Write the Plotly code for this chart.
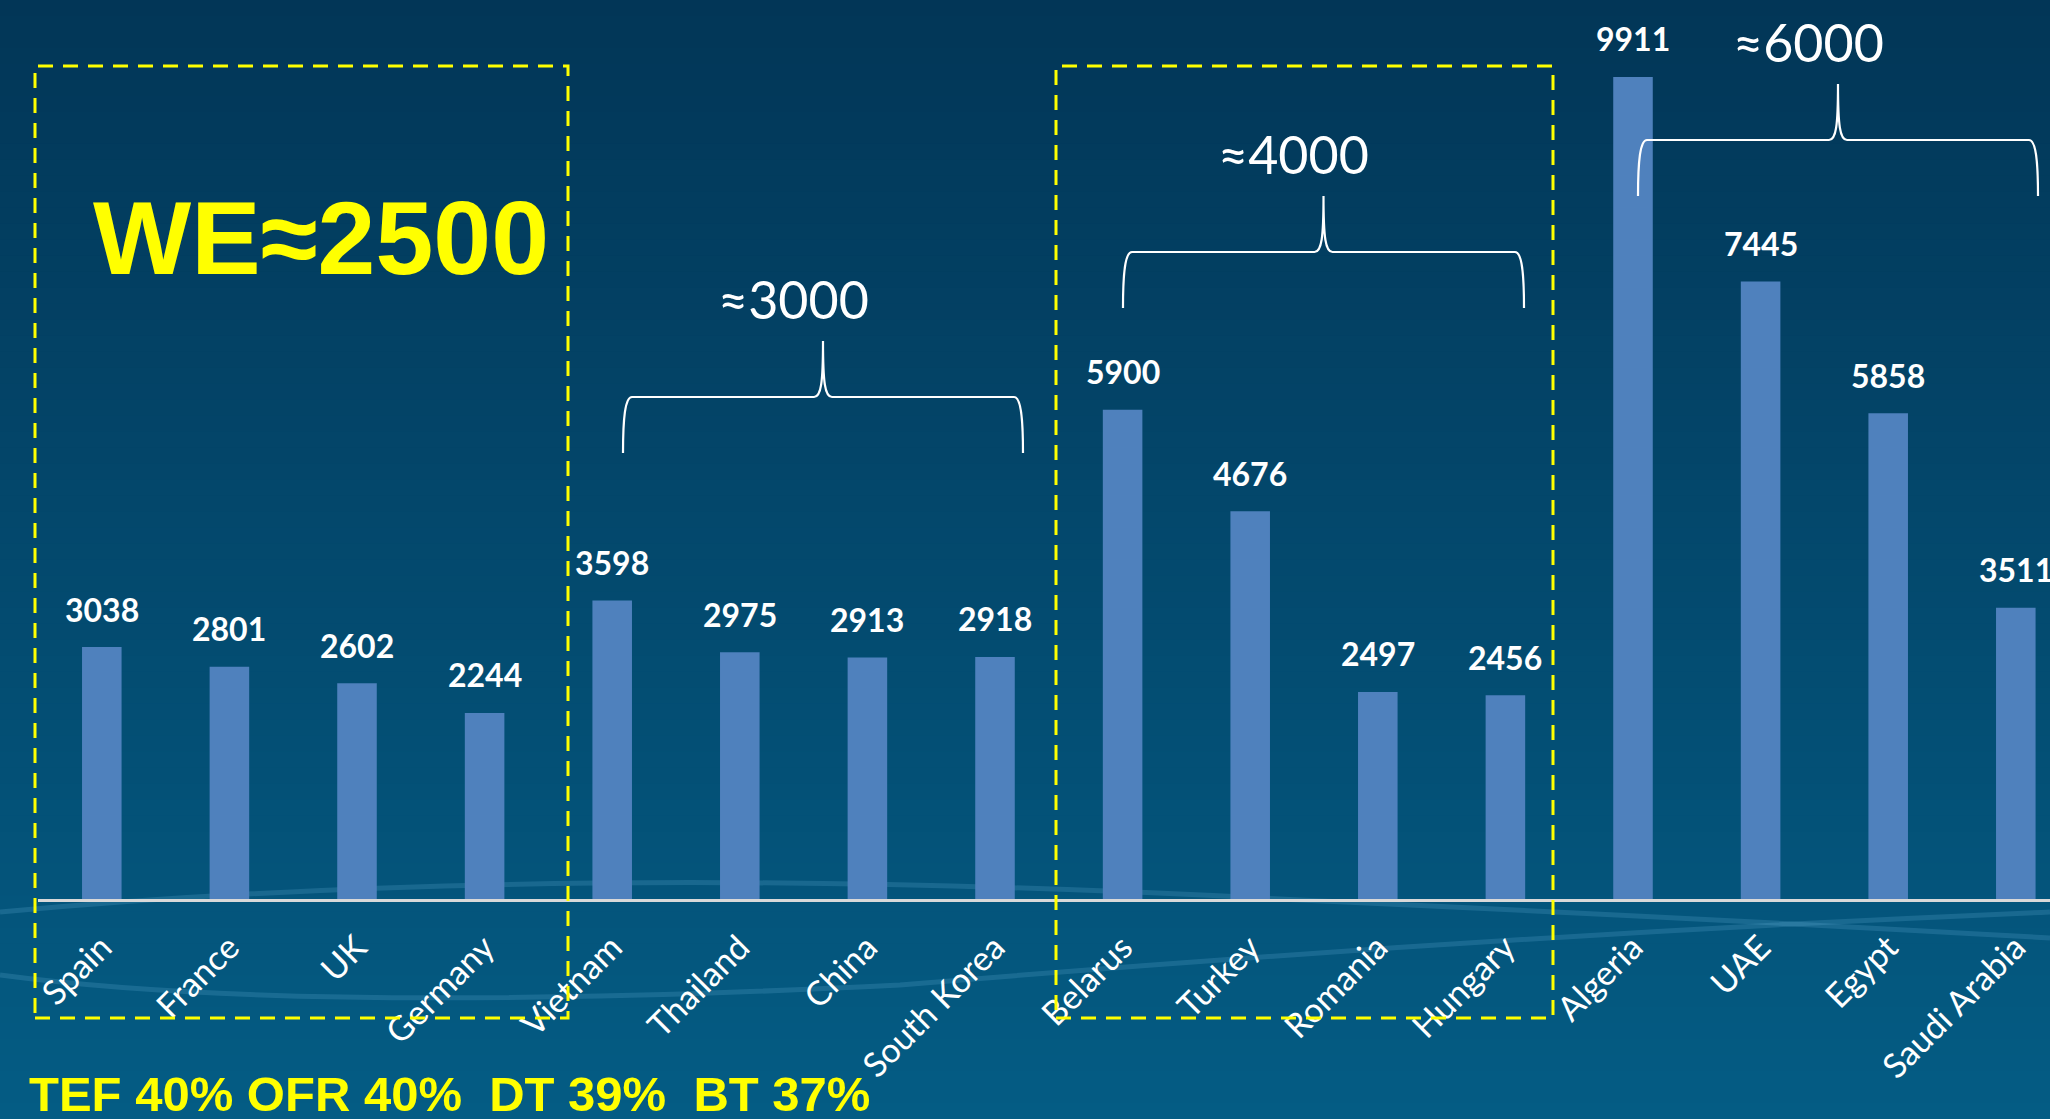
import plotly.graph_objects as go

# data
countries = ["Spain", "France", "UK", "Germany", "Vietnam", "Thailand", "China", "South Korea",
             "Belarus", "Turkey", "Romania", "Hungary", "Algeria", "UAE", "Egypt", "Saudi Arabia"]
values = [3038, 2801, 2602, 2244, 3598, 2975, 2913, 2918,
          5900, 4676, 2497, 2456, 9911, 7445, 5858, 3511]

group_labels = ["≈3000", "≈4000", "≈6000"]
headline = "WE≈2500"
footnote = "TEF 40% OFR 40%  DT 39%  BT 37%"

# page geometry (pixels)
W, H = 2050, 1119
ML, MB = 38, 220
PW = W - ML
PH = H - MB
PX_PER_UNIT = 0.08294

BAR_COLOR = "#4F81BD"
YELLOW = "#FFFF00"
LABEL_FONT = "Lato, Open Sans, sans-serif"


def px(x):
    return (x - ML) / PW


def py(y):
    return (PH - y) / PH


def hex_mix(c0, c1, t):
    a = [int(c0[i:i + 2], 16) for i in (1, 3, 5)]
    b = [int(c1[i:i + 2], 16) for i in (1, 3, 5)]
    return "rgb({},{},{})".format(*[round(a[k] + (b[k] - a[k]) * t) for k in range(3)])


def brace_path(left, right, top):
    mid = (left + right) / 2
    yh = top + 56
    yb = top + 112
    pts = [
        ("M", [(left, yb)]),
        ("C", [(left, yh + 22), (left + 2, yh), (left + 9, yh)]),
        ("L", [(mid - 9, yh)]),
        ("C", [(mid - 2, yh), (mid, yh - 14), (mid, top)]),
        ("C", [(mid, yh - 14), (mid + 2, yh), (mid + 9, yh)]),
        ("L", [(right - 9, yh)]),
        ("C", [(right - 2, yh), (right, yh + 22), (right, yb)]),
    ]
    out = []
    for cmd, coords in pts:
        out.append(cmd + " ".join(f"{px(x):.5f},{py(y):.5f}" for x, y in coords))
    return " ".join(out)


def curve_path(points):
    (x0, y0), rest = points[0], points[1:]
    s = f"M{px(x0):.5f},{py(y0):.5f}"
    for i in range(0, len(rest), 2):
        (cx, cy), (x, y) = rest[i], rest[i + 1]
        s += f" Q{px(cx):.5f},{py(cy):.5f} {px(x):.5f},{py(y):.5f}"
    return s


shapes = []

# background gradient
n_bands = 70
for i in range(n_bands):
    y0 = H * i / n_bands
    y1 = H * (i + 1) / n_bands + 1
    shapes.append(dict(type="rect", xref="paper", yref="paper", layer="below",
                       x0=px(0), x1=px(W), y0=py(y1), y1=py(y0),
                       fillcolor=hex_mix("#023657", "#045C84", i / (n_bands - 1)),
                       line=dict(width=0)))

# faint swooshes of the slide template
for pts in [
    [(0, 912), (560, 860), (1300, 900), (1700, 918), (2050, 938)],
    [(0, 975), (300, 1015), (900, 985), (1500, 935), (2050, 912)],
]:
    shapes.append(dict(type="path", xref="paper", yref="paper", layer="below",
                       path=curve_path(pts),
                       line=dict(color="rgba(110,185,225,0.2)", width=5)))

# yellow dashed group boxes
for x0, x1 in [(35, 568), (1056, 1553)]:
    shapes.append(dict(type="rect", xref="paper", yref="paper",
                       x0=px(x0), x1=px(x1), y0=py(1018), y1=py(66),
                       line=dict(color=YELLOW, width=3, dash="15px,10px")))

# braces
brace_spots = [(623, 1023, 341), (1123, 1524, 196), (1638, 2038, 84)]
for left, right, top in brace_spots:
    shapes.append(dict(type="path", xref="paper", yref="paper",
                       path=brace_path(left, right, top),
                       line=dict(color="white", width=2.2)))

annotations = []

# value labels on top of bars
for c, v in zip(countries, values):
    annotations.append(dict(x=c, y=v, xref="x", yref="y", text=f"<b>{v}</b>",
                            showarrow=False, yanchor="middle", yshift=38,
                            font=dict(family=LABEL_FONT, size=32, color="white")))

# brace labels
for (left, right, top), txt in zip(brace_spots, group_labels):
    mid = (left + right) / 2
    annotations.append(dict(x=px(mid - 30), y=py(top - 42), xref="paper", yref="paper",
                            text=txt, showarrow=False, xanchor="center", yanchor="middle",
                            font=dict(family=LABEL_FONT, size=52, color="white")))

annotations.append(dict(x=px(321), y=py(238), xref="paper", yref="paper",
                        text=f"<b>{headline}</b>", showarrow=False,
                        xanchor="center", yanchor="middle",
                        font=dict(family="Liberation Sans, Arial, sans-serif", size=104, color=YELLOW)))

annotations.append(dict(x=px(27), y=py(1094), xref="paper", yref="paper",
                        text=f"<b>{footnote}</b>", showarrow=False,
                        xanchor="left", yanchor="middle",
                        font=dict(family="Liberation Sans, Arial, sans-serif", size=49, color=YELLOW)))

fig = go.Figure(go.Bar(x=countries, y=values, width=0.31,
                       marker=dict(color=BAR_COLOR, line=dict(width=0)),
                       hoverinfo="x+y"))

fig.update_layout(
    width=W, height=H,
    margin=dict(l=ML, r=0, t=0, b=MB, pad=0),
    paper_bgcolor="#023657",
    plot_bgcolor="rgba(0,0,0,0)",
    showlegend=False,
    shapes=shapes,
    annotations=annotations,
    xaxis=dict(type="category", range=[-0.5, PW / 127.6 - 0.5],
               showline=True, linecolor="#D9D9D9", linewidth=3,
               showgrid=False, zeroline=False, ticks="",
               tickangle=-45, automargin=False, ticklabelstandoff=12,
               tickfont=dict(family=LABEL_FONT, size=34, color="white")),
    yaxis=dict(range=[0, PH / PX_PER_UNIT], visible=False, showgrid=False,
               zeroline=False, automargin=False),
)

# drop the browser's default page margin so the figure sits at the window corner
fig.write_html("out.html", config={"displayModeBar": False},
               post_script="document.body.style.margin='0';document.body.style.overflow='hidden';")
